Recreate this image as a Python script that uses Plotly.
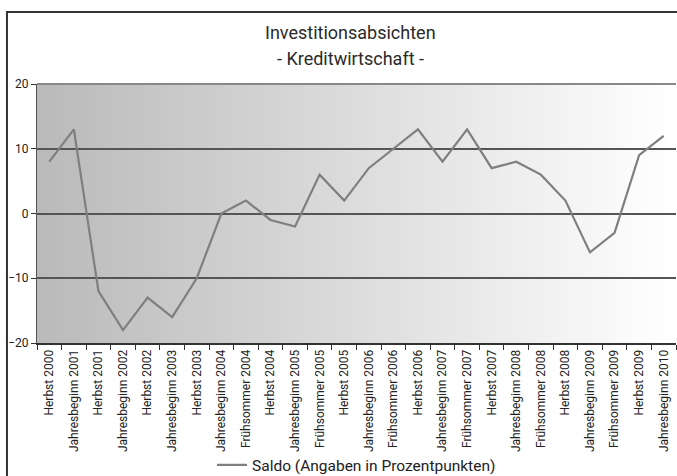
import plotly.graph_objs as go

categories = [
    'Herbst 2000', 'Jahresbeginn 2001', 'Herbst 2001', 'Jahresbeginn 2002',
    'Herbst 2002', 'Jahresbeginn 2003', 'Herbst 2003', 'Jahresbeginn 2004',
    'Frühsommer 2004', 'Herbst 2004', 'Jahresbeginn 2005', 'Frühsommer 2005',
    'Herbst 2005', 'Jahresbeginn 2006', 'Frühsommer 2006', 'Herbst 2006',
    'Jahresbeginn 2007', 'Frühsommer 2007', 'Herbst 2007', 'Jahresbeginn 2008',
    'Frühsommer 2008', 'Herbst 2008', 'Jahresbeginn 2009', 'Frühsommer 2009',
    'Herbst 2009', 'Jahresbeginn 2010',
]
saldo = [8, 13, -12, -18, -13, -16, -10, 0, 2, -1, -2, 6, 2, 7, 10, 13,
         8, 13, 7, 8, 6, 2, -6, -3, 9, 12]
y_ticks = [-20, -10, 0, 10, 20]

FONT = 'Roboto, sans-serif'

fig = go.Figure()
fig.add_trace(go.Scatter(
    x=categories,
    y=saldo,
    mode='lines',
    name='Saldo (Angaben in Prozentpunkten)',
    line=dict(color='#7f7f7f', width=2.2),
))

# horizontal gradient background of the plot area
shapes = []
n = 80
for i in range(n):
    t = i / (n - 1)
    g = int(round(186 + (255 - 186) * t))
    shapes.append(dict(
        type='rect', xref='x domain', yref='y domain',
        x0=i / n, x1=(i + 1) / n + 0.002, y0=0, y1=1,
        fillcolor=f'rgb({g},{g},{g})', line=dict(width=0), layer='below',
    ))

# outer frame
shapes.append(dict(
    type='rect', xref='paper', yref='paper',
    x0=-0.047, x1=1.05, y0=-0.7, y1=1.278,
    line=dict(color='#333333', width=2), fillcolor='rgba(0,0,0,0)',
))

fig.update_layout(
    width=677, height=476,
    margin=dict(l=37, r=1, t=84, b=133, autoexpand=False),
    paper_bgcolor='white',
    plot_bgcolor='white',
    shapes=shapes,
    showlegend=True,
    legend=dict(
        orientation='h', x=0.5, xanchor='center', y=-0.472, yanchor='middle',
        font=dict(family=FONT, size=15.5, color='#222222'),
        bgcolor='rgba(0,0,0,0)',
    ),
    annotations=[
        dict(text='Investitionsabsichten', xref='paper', yref='paper',
             x=0.49, y=1.197, xanchor='center', yanchor='middle', showarrow=False,
             font=dict(family=FONT, size=18, color='#2a2a2a')),
        dict(text='- Kreditwirtschaft -', xref='paper', yref='paper',
             x=0.49, y=1.097, xanchor='center', yanchor='middle', showarrow=False,
             font=dict(family=FONT, size=18, color='#2a2a2a')),
    ],
)

fig.update_xaxes(
    type='category',
    tickangle=-90,
    tickfont=dict(family=FONT, size=12, color='#222222'),
    ticks='outside', tickson='boundaries', ticklen=5, tickcolor='#333333',
    showgrid=False,
    showline=True, linecolor='#333333', linewidth=2,
    range=[-0.5, len(categories) - 0.5],
)

fig.update_yaxes(
    range=[-20, 20],
    tickvals=y_ticks,
    tickfont=dict(family=FONT, size=12, color='#222222'),
    ticks='outside', ticklen=5, tickcolor='#333333',
    showgrid=True, gridcolor='#555555', gridwidth=1.5,
    zeroline=True, zerolinecolor='#555555', zerolinewidth=1.5,
    showline=True, linecolor='#555555', linewidth=1,
)

# top border of the plot area
fig.add_shape(type='line', xref='x domain', yref='y domain', x0=0, x1=1, y0=1, y1=1,
              line=dict(color='#888888', width=2))

fig.write_html('out.html', config={'displayModeBar': False},
               post_script="document.body.style.margin='0';")
